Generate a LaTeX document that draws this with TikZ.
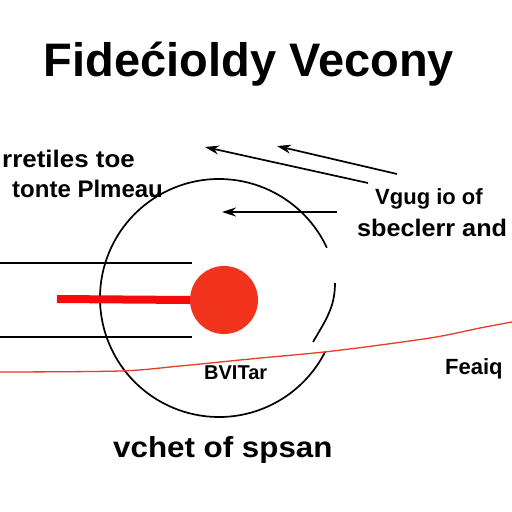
\documentclass[tikz,border=0pt]{standalone}
\usepackage{fontspec}
\setmainfont{Liberation Sans}
\usetikzlibrary{arrows.meta, positioning}
\definecolor{fv-red}{RGB}{242,52,30}
\definecolor{fv-bar}{RGB}{245,12,10}
\definecolor{fv-line}{RGB}{236,58,40}

\begin{document}
\begin{tikzpicture}[x=1pt, y=-1pt,
  lbl/.style={inner sep=0pt, font=\fontsize{22}{24}\selectfont\bfseries},
  arr/.style={-{Stealth[length=14pt, width=9pt]}, line width=1.7pt},
  rule/.style={line width=1.7pt},
]
  \useasboundingbox[fill=white] (0,0) rectangle (512,512);

  \node[inner sep=0pt, anchor=base, font=\fontsize{47}{50}\selectfont\bfseries] (title) at (249,76) {Fidećioldy Vecony};

  \node[lbl, anchor=base east, xscale=1.08, font=\fontsize{24}{26}\selectfont\bfseries] (tl1) at (135,167) {rretiles toe};
  \node[lbl, anchor=base west, font=\fontsize{24}{26}\selectfont\bfseries] (tl2) at (12,197) {tonte Plmeau};
  \node[lbl, anchor=base west] (tr1) at (375,204) {Vgug io of};
  \node[lbl, anchor=base west, xscale=1.05, font=\fontsize{24}{26}\selectfont\bfseries] (tr2) at (357,236) {sbeclerr and};
  \node[lbl, anchor=base west, font=\fontsize{20}{22}\selectfont\bfseries] (mid) at (204,379) {BVITar};
  \node[lbl, anchor=base west, font=\fontsize{22}{24}\selectfont\bfseries] (far) at (445,374) {Feaiq};
  \node[lbl, anchor=base west, xscale=1.08, font=\fontsize{29}{31}\selectfont\bfseries] (bottom) at (113,457) {vchet of spsan};

  \coordinate (c) at (219,298);
  \draw[rule] (c) ++(-25:119) arc[start angle=-25, end angle=-333, radius=119];
  \coordinate (b1) at (335,283);
  \coordinate (b2) at (313,342);
  \draw[rule] (b1) to[out=-90, in=60] (b2);

  \coordinate (h1a) at (0,263);
  \coordinate (h1b) at (192,263);
  \coordinate (h2a) at (0,337);
  \coordinate (h2b) at (192,337);
  \draw[rule] (h1a) -- (h1b);
  \draw[rule] (h2a) -- (h2b);

  \node[circle, fill=fv-red, minimum size=68pt, inner sep=0pt] (dot) at (224,300) {};
  \coordinate (barstart) at (57,299);
  \draw[fv-bar, line width=8pt] (barstart) -- (dot.west);

  \draw[fv-line, line width=1.3pt] plot[smooth, tension=0.5] coordinates {(0,372) (120,371) (180,366) (250,359) (333,351) (430,338) (480,328) (512,322)};

  \coordinate (a1s) at (397,174);
  \coordinate (a1e) at (277,146);
  \coordinate (a2s) at (368,183);
  \coordinate (a2e) at (205,147);
  \coordinate (a3s) at (337,212);
  \coordinate (a3e) at (222,212);
  \draw[arr] (a1s) -- (a1e);
  \draw[arr] (a2s) -- (a2e);
  \draw[arr] (a3s) -- (a3e);
\end{tikzpicture}
\end{document}
